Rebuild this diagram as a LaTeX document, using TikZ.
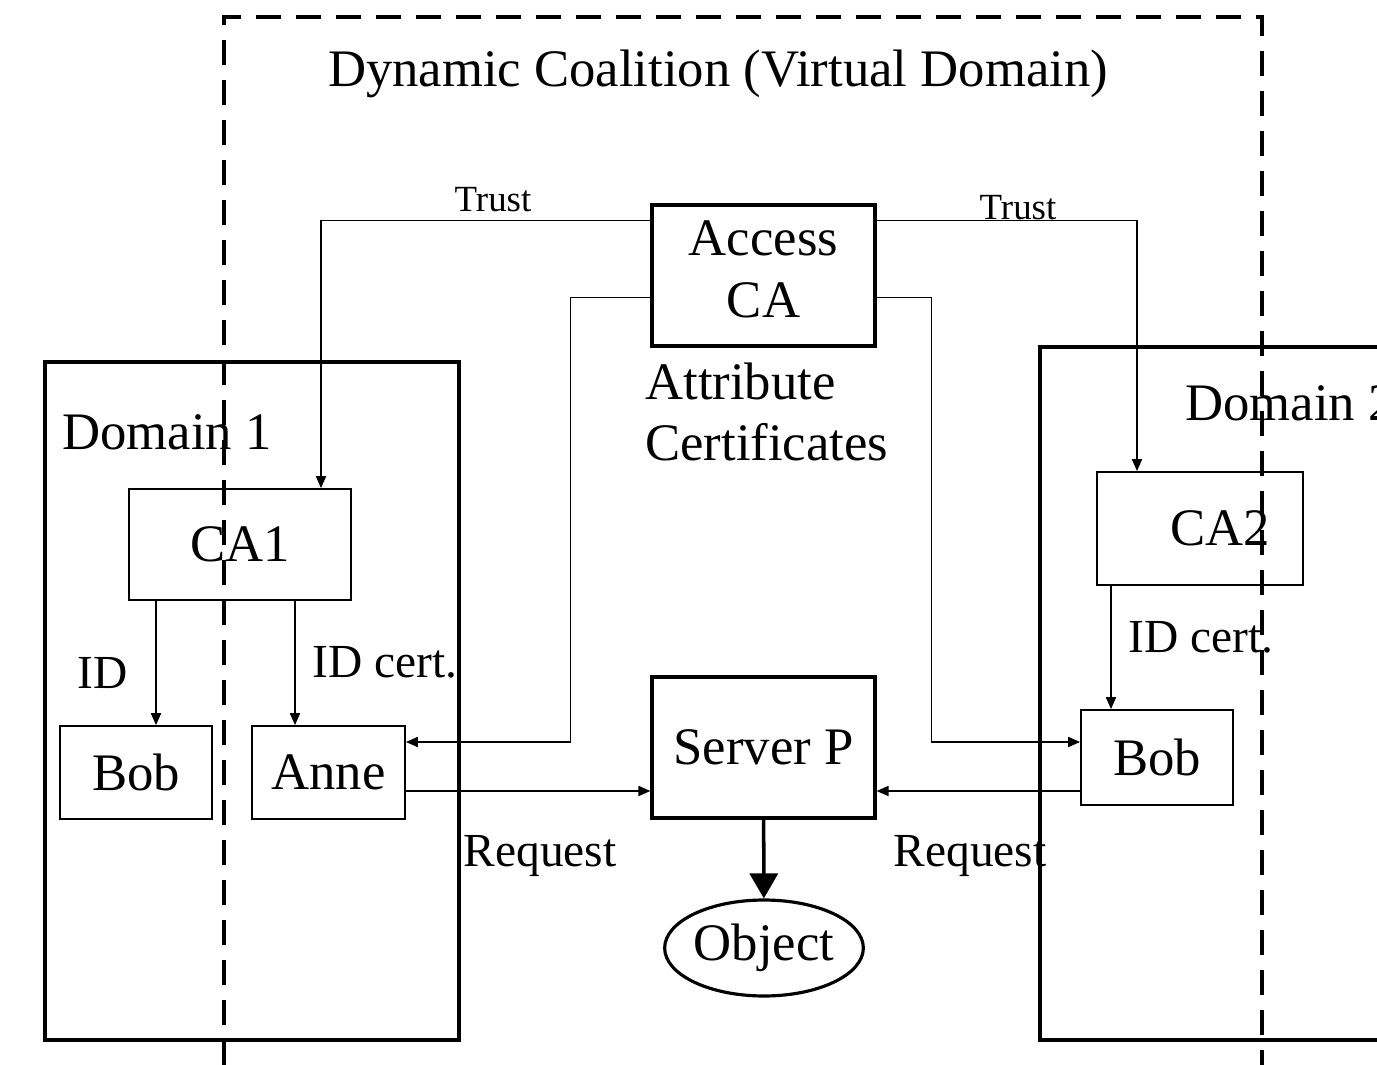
\documentclass[tikz,border=0pt]{standalone}
\usepackage{fontspec}
\setmainfont{Liberation Serif}
\usetikzlibrary{arrows.meta,calc,shapes.geometric}

\begin{document}
\begin{tikzpicture}[x=0.02cm,y=-0.02cm,>={Triangle[length=0.24cm,width=0.2cm]},font=\fontsize{30}{35}\selectfont]
\tikzstyle{box}=[draw,line width=1pt,inner sep=0pt]
\tikzstyle{bigbox}=[draw,line width=1.8pt,inner sep=0pt,align=center]
\tikzstyle{wire}=[->,line width=1pt]
\tikzstyle{lbl}=[inner sep=0pt,font=\fontsize{27}{32}\selectfont]
\useasboundingbox (0,0) rectangle (1377,1065);
\clip (0,0) rectangle (1377,1065);
\node[inner sep=0pt] (title) at (718,74) {Dynamic Coalition (Virtual Domain)};
% the two domains
\node[bigbox,minimum width=8.28cm,minimum height=13.56cm] (dom1) at (252,701) {};
\node[bigbox,minimum width=8cm,minimum height=13.86cm] (dom2) at (1240,693.5) {};
\node[anchor=west,inner sep=0pt] (dom1lbl) at (62,432) {Domain 1};
\node[anchor=west,inner sep=0pt] (dom2lbl) at (1185,403) {Domain 2};
% coalition part
\node[bigbox,minimum width=4.46cm,minimum height=2.82cm] (acca) at (763.5,275.5) {Access\\CA\vspace*{0.25cm}};
\node[bigbox,minimum width=4.46cm,minimum height=2.82cm] (srv) at (763.5,747.5) {Server P};
\node[bigbox,ellipse,minimum width=3.86cm,minimum height=1.92cm] (obj) at (764,948) {Object};
\node[anchor=west,align=left,inner sep=0pt] (attr) at (645,412) {Attribute\\Certificates};
% users and local CAs
\node[box,minimum width=4.44cm,minimum height=2.22cm] (ca1) at (240,544.5) {CA1};
\node[box,minimum width=3.04cm,minimum height=1.86cm] (bob1) at (136,772.5) {Bob};
\node[box,minimum width=3.06cm,minimum height=1.86cm] (anne) at (328.5,772.5) {Anne};
\node[box,minimum width=4.12cm,minimum height=2.26cm] (ca2) at (1200,528.5) {\hspace*{0.8cm}CA2};
\node[box,minimum width=3.04cm,minimum height=1.9cm] (bob2) at (1157,757.5) {Bob};
% trust and attribute certificates
\draw[wire] ($(acca.north west)+(0,17)$) -| ($(ca1.north)+(81,0)$);
\draw[wire] ($(acca.north east)+(0,17)$) -| ($(ca2.north)+(-63,0)$);
\node[inner sep=0pt,font=\fontsize{21}{25}\selectfont] (trust1) at (493,200) {Trust};
\node[inner sep=0pt,font=\fontsize{21}{25}\selectfont] (trust2) at (1018,208) {Trust};
\draw[wire] ($(acca.north west)+(0,94)$) -- ++(-80,0) |- ($(anne.east)+(0,-30.5)$);
\draw[wire] ($(acca.north east)+(0,94)$) -- ++(55,0) |- ($(bob2.west)+(0,-15.5)$);
% ID certificates
\draw[wire] ($(ca1.south)+(-84,0)$) coordinate (id1) -- (id1 |- bob1.north);
\draw[wire] ($(ca1.south)+(55,0)$) coordinate (id2) -- (id2 |- anne.north);
\draw[wire] ($(ca2.south)+(-89,0)$) coordinate (id3) -- (id3 |- bob2.north);
\node[lbl] (idl) at (103,673) {ID};
\node[lbl,anchor=west] (idc1) at (312,662) {ID cert.};
\node[lbl,anchor=west] (idc2) at (1128,637) {ID cert.};
% requests
\draw[wire] ($(anne.east)+(0,18.5)$) coordinate (rq1) -- (rq1 -| srv.west);
\draw[wire] ($(bob2.west)+(0,33.5)$) coordinate (rq2) -- (rq2 -| srv.east);
\node[lbl] (req1) at (540,856) {Request};
\node[lbl] (req2) at (970,856) {Request};
\draw[line width=2pt,-{Triangle[length=0.5cm,width=0.56cm]}] (srv) -- (obj);
% virtual domain frame
\draw[line width=1.8pt,dash pattern=on 0.5cm off 0.3cm] (224,1065) -- (224,17) -- (1262,17) -- (1262,1065);
\end{tikzpicture}
\end{document}
